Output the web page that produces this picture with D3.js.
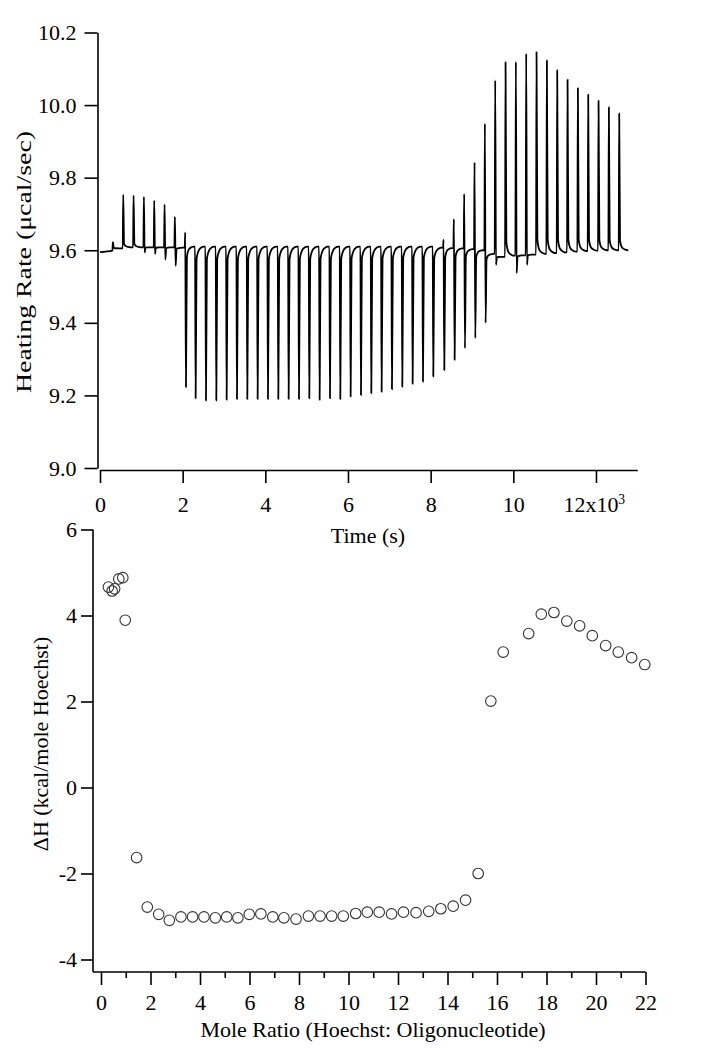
<!DOCTYPE html>
<html>
<head>
<meta charset="utf-8">
<script src="https://cdn.jsdelivr.net/npm/d3@7"></script>
<style>
  html, body { margin: 0; padding: 0; background: #fff; }
  svg { display: block; }
  text { font-family: "Liberation Serif", "Times New Roman", serif; fill: #000; }
</style>
</head>
<body>
<svg id="chart" width="706" height="1050"></svg>
<script>
// ---------------- DATA ----------------
// Top panel: ITC thermogram, heating rate (µcal/sec) vs time (s)
const timeTicks = [0, 2000, 4000, 6000, 8000, 10000, 12000];
const timeTickLabels = ["0", "2", "4", "6", "8", "10", "12x10"];
const rateTicks = [9.0, 9.2, 9.4, 9.6, 9.8, 10.0, 10.2];

const startPoint = [0, 9.595];
const endPoint = [12780, 9.600];

const injTimes = [300, 550, 800, 1050, 1300, 1550, 1800, 2050, 2300, 2550,
  2800, 3050, 3300, 3550, 3800, 4050, 4300, 4550, 4800, 5050,
  5300, 5550, 5800, 6050, 6300, 6550, 6800, 7050, 7300, 7550,
  7800, 8050, 8300, 8550, 8800, 9050, 9300, 9550, 9800, 10050,
  10300, 10550, 10800, 11050, 11300, 11550, 11800, 12050, 12300, 12550];

// level of the trace just before each injection
const baseLevel = [9.599, 9.605, 9.608, 9.608, 9.608, 9.608, 9.608, 9.607, 9.610, 9.610,
  9.610, 9.610, 9.610, 9.610, 9.610, 9.610, 9.610, 9.610, 9.610, 9.610,
  9.610, 9.610, 9.610, 9.610, 9.610, 9.610, 9.610, 9.610, 9.610, 9.610,
  9.610, 9.610, 9.607, 9.606, 9.605, 9.603, 9.600, 9.590, 9.582, 9.585,
  9.586, 9.588, 9.590, 9.592, 9.594, 9.596, 9.598, 9.599, 9.600, 9.600];

// maximum of each injection peak (null = no upward peak)
const peakUp = [9.622, 9.753, 9.751, 9.747, 9.737, 9.726, 9.692, 9.649, null, null,
  null, null, null, null, null, null, null, null, null, null,
  null, null, null, null, null, null, null, null, null, null,
  null, null, 9.629, 9.686, 9.755, 9.842, 9.949, 10.068, 10.118, 10.119,
  10.142, 10.146, 10.123, 10.096, 10.070, 10.047, 10.029, 10.012, 9.994, 9.977];

// minimum of each injection peak (null = no downward peak)
const peakDown = [null, null, null, 9.594, 9.590, 9.574, 9.557, 9.223, 9.192, 9.186,
  9.186, 9.188, 9.190, 9.190, 9.190, 9.190, 9.190, 9.190, 9.190, 9.192,
  9.188, 9.192, 9.190, 9.197, 9.201, 9.206, 9.210, 9.217, 9.224, 9.232,
  9.238, 9.252, 9.270, 9.298, 9.330, 9.358, 9.400, 9.560, null, 9.537,
  9.560, null, null, null, null, null, null, null, null, null];

// Bottom panel: integrated heats
const moleRatio = [0.30, 0.45, 0.55, 0.72, 0.88, 0.98, 1.44, 1.87, 2.33, 2.76,
  3.23, 3.70, 4.16, 4.62, 5.08, 5.53, 5.99, 6.46, 6.94, 7.39,
  7.88, 8.38, 8.85, 9.32, 9.79, 10.29, 10.76, 11.24, 11.74, 12.22,
  12.73, 13.24, 13.73, 14.23, 14.73, 15.24, 15.75, 16.25, 17.28, 17.79,
  18.30, 18.82, 19.34, 19.85, 20.39, 20.90, 21.44, 21.97];
const deltaH = [4.66, 4.57, 4.62, 4.85, 4.88, 3.89, -1.63, -2.78, -2.95, -3.09,
  -3.01, -3.01, -3.01, -3.03, -3.01, -3.03, -2.95, -2.94, -3.01, -3.03,
  -3.06, -2.99, -2.99, -2.99, -2.99, -2.93, -2.90, -2.90, -2.94, -2.90,
  -2.91, -2.88, -2.82, -2.76, -2.62, -2.00, 2.01, 3.15, 3.58, 4.03,
  4.07, 3.87, 3.76, 3.53, 3.30, 3.15, 3.02, 2.86];
const ratioTicks = [0, 2, 4, 6, 8, 10, 12, 14, 16, 18, 20, 22];
const ratioMinorTicks = [1, 3, 5, 7, 9, 11, 13, 15, 17, 19, 21];
const dhTicks = [-4, -2, 0, 2, 4, 6];

// ---------------- DRAW ----------------
const svg = d3.select("#chart");
const FS = 22;

// ===== Top panel =====
const xT = d3.scaleLinear().domain([0, 13000]).range([100, 637.3]);
const yT = d3.scaleLinear().domain([9.0, 10.2]).range([468, 32.5]);

const gTop = svg.append("g");

// build the trace
const pts = [startPoint];
injTimes.forEach((t, i) => {
  const b = baseLevel[i];
  const bn = i + 1 < baseLevel.length ? baseLevel[i + 1] : endPoint[1];
  const up = peakUp[i], dn = peakDown[i];
  pts.push([t, b]);
  if (up !== null) pts.push([t + 12, up]);
  if (dn !== null) {
    const a = bn - dn;
    pts.push([t + (up !== null ? 30 : 14), dn]);
    pts.push([t + (up !== null ? 52 : 36), bn - 0.08 * a]);
    pts.push([t + 90, bn - 0.025 * a]);
    pts.push([t + 150, bn - 0.006 * a]);
    pts.push([t + 215, bn]);
  } else if (up !== null) {
    const a = up - b;
    pts.push([t + 32, bn + 0.07 * a]);
    pts.push([t + 80, bn + 0.02 * a]);
    pts.push([t + 160, bn + 0.004 * a]);
    pts.push([t + 220, bn]);
  }
});
pts.push(endPoint);

const line = d3.line().x(d => xT(d[0])).y(d => yT(d[1])).curve(d3.curveMonotoneX);
gTop.append("path")
  .attr("d", line(pts))
  .attr("fill", "none")
  .attr("stroke", "#000")
  .attr("stroke-width", 1.8)
  .attr("stroke-linejoin", "round");

// axes
const xAxisT = d3.axisBottom(xT).tickValues(timeTicks)
  .tickFormat((d, i) => timeTickLabels[i]).tickSize(13).tickSizeOuter(0).tickPadding(13);
const gxT = gTop.append("g").attr("transform", "translate(0,470)").call(xAxisT);
gxT.selectAll("text").filter((d, i) => i === timeTicks.length - 1)
  .attr("dx", "-0.1em")
  .append("tspan").attr("dy", "-0.55em").attr("font-size", FS * 0.62).text("3");

const yAxisT = d3.axisLeft(yT).tickValues(rateTicks).tickFormat(d3.format(".1f"))
  .tickSize(13).tickSizeOuter(0).tickPadding(8);
const gyT = gTop.append("g").attr("transform", "translate(97.5,0)").call(yAxisT);

[gxT, gyT].forEach(g => {
  g.selectAll("path.domain").attr("stroke", "#000").attr("stroke-width", 1.6);
  g.selectAll(".tick line").attr("stroke", "#000").attr("stroke-width", 1.6);
  g.selectAll("text").attr("font-size", FS).attr("font-family", "Liberation Serif").attr("fill", "#000");
});

gTop.append("text").attr("x", 368).attr("y", 543).attr("text-anchor", "middle")
  .attr("font-size", FS).text("Time (s)");
gTop.append("text").attr("transform", "translate(31,262) rotate(-90)")
  .attr("text-anchor", "middle").attr("font-size", FS)
  .attr("textLength", 262).attr("lengthAdjust", "spacingAndGlyphs")
  .text("Heating Rate (\u03bccal/sec)");

// ===== Bottom panel =====
const xB = d3.scaleLinear().domain([0, 22]).range([101, 645.5]);
const yB = d3.scaleLinear().domain([-4, 6]).range([959.5, 529.5]);
const axisX0 = 93, axisY0 = 972;

const gBot = svg.append("g");

const xAxisB = d3.axisBottom(xB).tickValues(ratioTicks).tickFormat(d => String(d))
  .tickSize(13).tickSizeOuter(0).tickPadding(9);
const gxB = gBot.append("g").attr("transform", `translate(0,${axisY0})`).call(xAxisB);
const xMinorB = d3.axisBottom(xB).tickValues(ratioMinorTicks).tickFormat("")
  .tickSize(6).tickSizeOuter(0);
const gxBm = gBot.append("g").attr("transform", `translate(0,${axisY0})`).call(xMinorB);

const yAxisB = d3.axisLeft(yB).tickValues(dhTicks).tickFormat(d => String(d))
  .tickSize(12).tickSizeOuter(0).tickPadding(4);
const gyB = gBot.append("g").attr("transform", `translate(${axisX0},0)`).call(yAxisB);

[gxB, gxBm, gyB].forEach(g => {
  g.selectAll("path.domain").remove();
  g.selectAll(".tick line").attr("stroke", "#000").attr("stroke-width", 1.6);
  g.selectAll("text").attr("font-size", FS).attr("font-family", "Liberation Serif").attr("fill", "#000");
});
// axis lines forming the corner
gBot.append("line").attr("x1", axisX0).attr("x2", axisX0)
  .attr("y1", yB(6)).attr("y2", axisY0).attr("stroke", "#000").attr("stroke-width", 1.6);
gBot.append("line").attr("x1", axisX0).attr("x2", xB(22))
  .attr("y1", axisY0).attr("y2", axisY0).attr("stroke", "#000").attr("stroke-width", 1.6);

gBot.append("g").selectAll("circle")
  .data(moleRatio.map((m, i) => [m, deltaH[i]]))
  .join("circle")
  .attr("cx", d => xB(d[0]))
  .attr("cy", d => yB(d[1]))
  .attr("r", 5.3)
  .attr("fill", "none")
  .attr("stroke", "#333")
  .attr("stroke-width", 1.1);

gBot.append("text").attr("x", 373).attr("y", 1037).attr("text-anchor", "middle")
  .attr("font-size", FS).text("Mole Ratio (Hoechst: Oligonucleotide)");
gBot.append("text").attr("transform", "translate(48,744) rotate(-90)")
  .attr("text-anchor", "middle").attr("font-size", FS)
  .text("\u0394H (kcal/mole Hoechst)");
</script>
</body>
</html>
